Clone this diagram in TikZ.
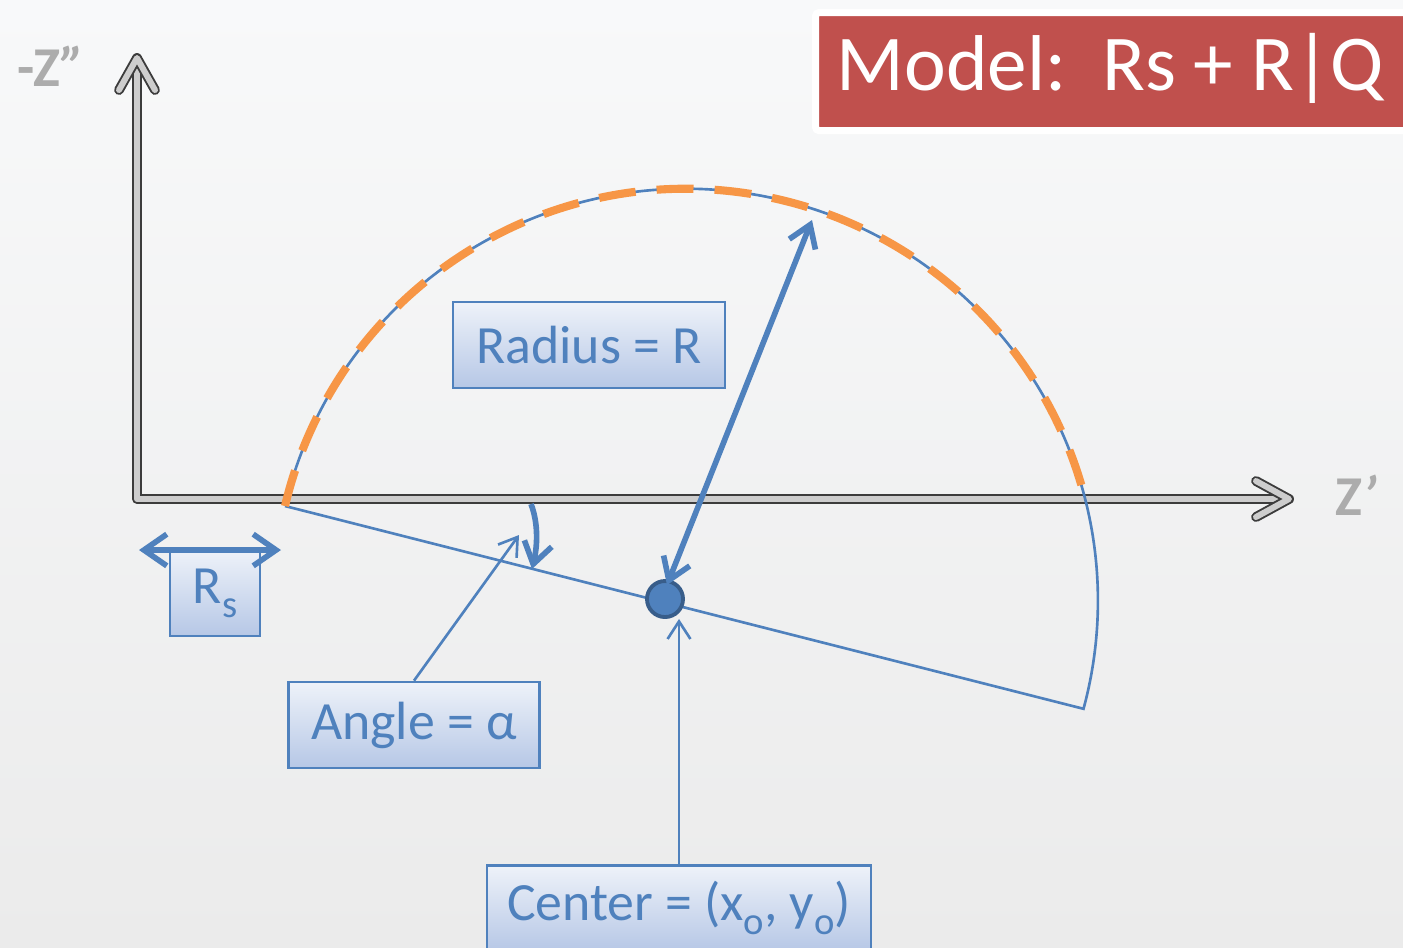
\documentclass[tikz,border=0pt]{standalone}
\usepackage{fontspec}
\setmainfont{Carlito}
\usetikzlibrary{arrows.meta}
\definecolor{myblue}{HTML}{4F81BD}
\definecolor{darkblue}{HTML}{385D8A}
\definecolor{myorange}{HTML}{F79646}
\definecolor{myred}{HTML}{C0504D}
\definecolor{boxtop}{HTML}{EEF2F9}
\definecolor{boxbot}{HTML}{B6C7E6}
\definecolor{axdark}{HTML}{3C3C3C}
\definecolor{axlight}{HTML}{CDCDCD}
\definecolor{bgtop}{HTML}{F8F9FA}
\definecolor{bgbot}{HTML}{EBEBEB}
\newcommand\lowsub[1]{\raisebox{-0.55ex}{\fontsize{11}{12}\selectfont #1}}
\tikzset{
  axisline/.style={draw=axdark, line width=0.55pt, double=axlight, double distance=1.7pt, line join=round, line cap=round},
  labelbox/.style={draw=myblue, line width=0.75pt, top color=boxtop, bottom color=boxbot, text=myblue, inner sep=0pt, font=\fontsize{15.3}{18}\selectfont},
  thinline/.style={draw=myblue, line width=0.75pt},
  thickarrow/.style={draw=myblue, line width=1.6pt, -{Straight Barb[length=6pt,width=8pt]}},
  thinarrow/.style={draw=myblue, line width=0.75pt, -{Straight Barb[length=5pt,width=6.5pt]}},
  axislabel/.style={text=gray!65, font=\fontsize{16}{18}\selectfont\bfseries},
}
\begin{document}
\begin{tikzpicture}[x=0.01cm, y=-0.01cm]
\useasboundingbox (0,0) rectangle (1403,947);
% background
\shade[top color=bgtop, bottom color=bgbot] (0,0) rectangle (1403,947);

% axes
\coordinate (O) at (137,499);
\coordinate (ytip) at (137,58);
\coordinate (xtip) at (1289,499);
\draw[axisline] (ytip) -- (O) -- (xtip);
\draw[axisline] (119,90) -- (ytip) -- (155,90);
\draw[axisline] (1256,481) -- (xtip) -- (1256,517);
\node[axislabel] (ylab) at (51,66) {-Z\textit{\char"22}};
\node[axislabel] (xlab) at (1356,495) {Z\textit{\char"27}};

% circle arc (centre of arc at 690,602, radius 412)
\coordinate (a0) at (285,506);
\coordinate (a1) at (1088,710);
\draw[thinline] (a0) arc[start angle=193.3, end angle=375.2, radius=412] -- (a0);
\draw[myorange, line width=2.3pt, dash pattern=on 10.5pt off 6pt] (a0) arc[start angle=193.3, end angle=344.2, radius=412];

% title
\node[fill=myred, draw=white, line width=2pt, rounded corners=1pt, minimum width=6.1cm, minimum height=1.18cm, anchor=north west, inner sep=0pt] (title) at (812,9) {};
\node[text=white, anchor=west, inner sep=0pt, font=\fontsize{22.5}{26}\selectfont] (titletext) at (836,68) {Model:\ \ Rs + R|Q};

% label boxes
\node[labelbox, minimum width=2.72cm, minimum height=0.86cm] (rbox) at (589,345) {Radius = R};
\node[labelbox, minimum width=0.9cm, minimum height=0.86cm] (rsbox) at (215,593) {R\lowsub{s}};
\node[labelbox, minimum width=2.51cm, minimum height=0.86cm] (abox) at (414,725) {Angle = α};
\node[labelbox, minimum width=3.84cm, minimum height=0.86cm, anchor=north] (cbox) at (679,864) {Center = (x\lowsub{o}, y\lowsub{o})};

% centre dot
\node[circle, fill=myblue, draw=darkblue, line width=1.1pt, minimum size=0.36cm, inner sep=0pt] (ctr) at (665,599) {};

% Rs arrow
\coordinate (rsL) at (139,550);
\coordinate (rsR) at (281,550);
\draw[thickarrow, {Straight Barb[length=6.5pt,width=9pt]}-{Straight Barb[length=6.5pt,width=9pt]}] (rsL) -- (rsR);

% radius arrow
\coordinate (rtop) at (812,220);
\draw[thickarrow, {Straight Barb[length=6pt,width=8pt]}-{Straight Barb[length=6pt,width=8pt]}] (ctr.center) ++(2,-14) coordinate (rbot) (rbot) -- (rtop);

% angle arrows
\coordinate (ang1) at (531,504);
\coordinate (ang2) at (532,569);
\draw[thickarrow] (ang1) .. controls (539,525) and (537,548) .. (ang2);
\coordinate (angtip) at (519,535);
\draw[thinarrow] (abox.north) -- (angtip);

% centre pointer
\draw[thinarrow] (cbox.north) -- (cbox.north |- ctr.south);
\end{tikzpicture}
\end{document}
